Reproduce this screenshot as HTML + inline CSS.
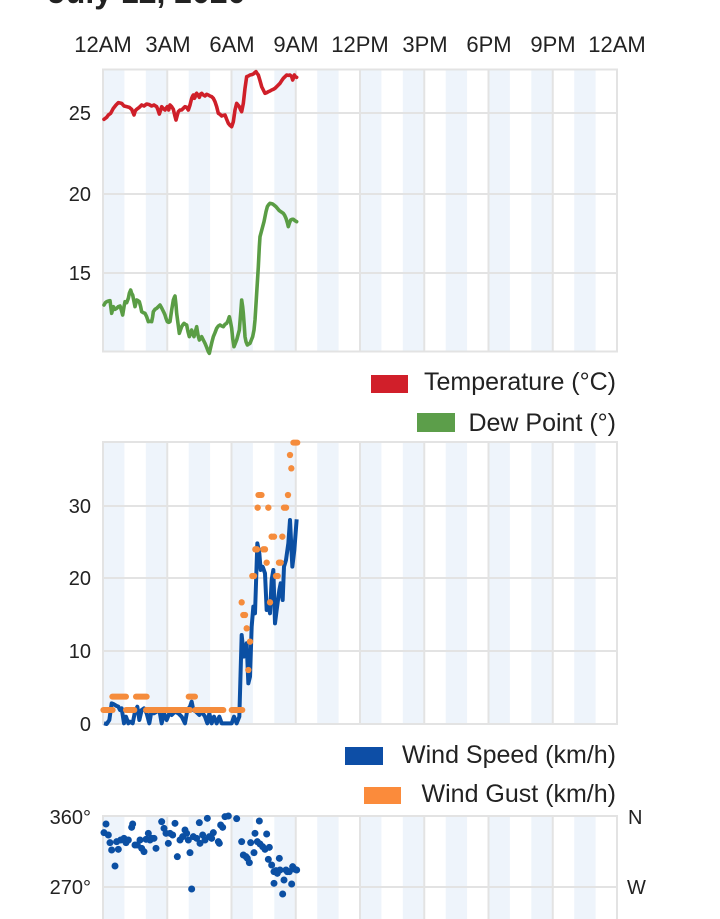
<!DOCTYPE html>
<html><head><meta charset="utf-8"><style>
html,body{margin:0;padding:0;background:#fff;}
svg{display:block;}
text{font-family:"Liberation Sans",sans-serif;fill:#222;}
</style></head><body>
<svg width="720" height="919" viewBox="0 0 720 919" xmlns="http://www.w3.org/2000/svg">
<defs>
<g id="stripes" fill="#eef4fb">
<rect x="103" width="21.4" height="1"/><rect x="145.8" width="21.4" height="1"/><rect x="188.7" width="21.4" height="1"/><rect x="231.5" width="21.4" height="1"/><rect x="274.3" width="21.4" height="1"/><rect x="317.2" width="21.4" height="1"/><rect x="360" width="21.4" height="1"/><rect x="402.8" width="21.4" height="1"/><rect x="445.7" width="21.4" height="1"/><rect x="488.5" width="21.4" height="1"/><rect x="531.3" width="21.4" height="1"/><rect x="574.2" width="21.4" height="1"/>
</g>
<g id="vgrid" stroke="#e3e3e3" stroke-width="2">
<line x1="167.25" y1="0" x2="167.25" y2="1" vector-effect="non-scaling-stroke"/><line x1="231.5" y1="0" x2="231.5" y2="1" vector-effect="non-scaling-stroke"/><line x1="295.75" y1="0" x2="295.75" y2="1" vector-effect="non-scaling-stroke"/><line x1="360" y1="0" x2="360" y2="1" vector-effect="non-scaling-stroke"/><line x1="424.25" y1="0" x2="424.25" y2="1" vector-effect="non-scaling-stroke"/><line x1="488.5" y1="0" x2="488.5" y2="1" vector-effect="non-scaling-stroke"/><line x1="552.75" y1="0" x2="552.75" y2="1" vector-effect="non-scaling-stroke"/>
</g>
</defs>

<!-- Title (cut off) -->
<text x="48" y="3" font-size="32" font-weight="bold" fill="#222">July 12, 2020</text>

<!-- Top axis labels -->
<g font-size="22" text-anchor="middle">
<text x="103" y="52">12AM</text><text x="168" y="52">3AM</text><text x="232" y="52">6AM</text><text x="296" y="52">9AM</text><text x="360" y="52">12PM</text><text x="425" y="52">3PM</text><text x="489" y="52">6PM</text><text x="553" y="52">9PM</text><text x="617" y="52">12AM</text>
</g>

<!-- ===== Temperature chart ===== -->
<use href="#stripes" transform="translate(0,69.5) scale(1,282)"/>
<use href="#vgrid" transform="translate(0,69.5) scale(1,282)"/>
<g stroke="#e3e3e3" stroke-width="2">
<line x1="103" y1="113" x2="617" y2="113"/><line x1="103" y1="194" x2="617" y2="194"/><line x1="103" y1="273" x2="617" y2="273"/>
</g>
<rect x="103" y="69.5" width="514" height="282" fill="none" stroke="#e3e3e3" stroke-width="2"/>
<g font-size="20" text-anchor="end">
<text x="91" y="120">25</text><text x="91" y="201">20</text><text x="91" y="280">15</text>
</g>
<g transform="translate(80,60) scale(0.333333)" fill="none" stroke-linejoin="round" stroke-linecap="round">
<polyline vector-effect="non-scaling-stroke" stroke="#cf1f29" stroke-width="3.6" points="72,178 80,172 85,165 92,160 100,145 108,135 115,128 125,130 132,138 140,140 148,142 155,148 162,165 166,152 170,148 178,142 185,135 192,138 200,132 208,134 215,138 222,135 230,140 234,150 238,162 242,150 245,140 250,146 255,150 258,145 262,140 266,150 270,135 275,140 280,148 284,165 288,180 292,165 295,155 300,150 305,150 310,145 315,140 320,142 325,150 330,135 335,115 338,108 340,105 343,115 345,112 348,102 350,100 354,105 358,112 362,102 365,100 370,105 375,108 380,103 385,105 390,108 395,110 400,115 405,125 410,140 415,160 420,163 425,168 430,166 435,165 440,178 445,190 450,196 455,200 460,185 465,150 468,138 470,130 474,135 478,140 482,150 485,155 488,140 490,130 495,85 500,50 505,48 510,45 515,44 520,42 524,38 528,35 531,40 535,45 540,62 545,80 550,90 555,100 560,98 565,95 570,93 575,90 580,88 585,85 592,78 600,70 605,62 610,55 615,50 620,45 625,46 630,45 635,50 638,60 640,55 643,45 646,50 650,52"/>
<polyline vector-effect="non-scaling-stroke" stroke="#5a9d45" stroke-width="3.6" points="72,735 76,728 80,725 85,723 90,722 93,745 95,760 100,740 105,748 110,745 115,740 120,738 124,750 128,765 132,740 135,725 140,728 145,715 148,700 152,690 155,700 158,705 162,725 165,740 168,728 170,720 174,722 178,725 182,740 185,755 190,758 195,760 200,770 205,785 210,784 215,785 218,770 220,755 225,748 230,745 235,740 240,735 244,742 248,750 252,758 255,765 258,775 262,785 266,787 270,785 275,750 280,720 283,712 285,708 288,735 290,760 294,790 298,820 302,808 305,800 308,795 312,790 316,793 320,795 324,815 328,830 332,818 335,810 338,822 342,830 346,815 350,800 354,825 358,840 362,835 365,830 370,840 375,850 380,862 385,875 388,880 392,862 396,845 400,830 405,818 410,805 415,798 420,795 425,798 430,800 435,793 440,790 444,782 448,770 452,788 455,805 458,835 462,860 466,850 470,840 474,825 478,810 482,760 485,720 488,740 490,760 493,800 495,830 498,845 502,855 506,852 510,850 514,840 518,830 522,810 525,780 530,700 535,620 538,560 540,530 544,515 548,500 552,485 555,470 558,455 562,440 566,434 570,430 574,431 578,432 583,436 588,440 593,446 598,452 604,456 610,460 614,466 618,475 622,488 625,500 628,490 632,480 636,478 640,478 645,482 650,485"/>
</g>

<!-- Legend 1 -->
<rect x="371" y="375" width="37" height="18" fill="#d11f2a"/>
<text x="616" y="390" font-size="25" text-anchor="end">Temperature (°C)</text>
<rect x="417" y="413" width="38" height="19" fill="#5c9e4a"/>
<text x="616" y="431" font-size="25" text-anchor="end">Dew Point (°)</text>

<!-- ===== Wind chart ===== -->
<use href="#stripes" transform="translate(0,442) scale(1,282)"/>
<use href="#vgrid" transform="translate(0,442) scale(1,282)"/>
<g stroke="#e3e3e3" stroke-width="2">
<line x1="103" y1="506" x2="617" y2="506"/><line x1="103" y1="578" x2="617" y2="578"/><line x1="103" y1="651" x2="617" y2="651"/>
</g>
<rect x="103" y="442" width="514" height="282" fill="none" stroke="#e3e3e3" stroke-width="2"/>
<g font-size="20" text-anchor="end">
<text x="91" y="513">30</text><text x="91" y="585">20</text><text x="91" y="658">10</text><text x="91" y="731">0</text>
</g>
<g transform="translate(80,430) scale(0.333333)" stroke-linejoin="round">
<polyline vector-effect="non-scaling-stroke" fill="none" stroke="#0b4fa3" stroke-width="4" points="72,880 80,882 88,870 95,820 100,822 105,825 110,828 115,830 120,840 125,835 132,880 138,860 145,880 150,875 158,880 165,845 172,830 178,870 185,840 192,835 200,850 208,880 215,840 222,850 230,845 238,840 245,880 252,850 260,870 268,850 275,855 285,845 295,850 305,860 315,880 322,840 330,830 335,815 340,840 348,845 358,855 365,845 375,860 382,880 388,850 395,880 402,860 410,880 418,860 425,880 435,880 445,880 455,880 462,860 470,880 478,860 485,615 492,680 500,640 505,760 510,740 515,590 520,530 525,550 532,340 538,370 542,420 548,410 555,430 560,540 565,520 570,550 575,450 580,420 585,580 590,540 598,480 602,460 608,510 612,410 618,390 625,340 630,270 637,410 643,360 650,268"/>
<g stroke="#f58c3c" stroke-width="6" stroke-linecap="round" fill="none">
<line vector-effect="non-scaling-stroke" x1="70" y1="840" x2="98" y2="840"/>
<line vector-effect="non-scaling-stroke" x1="97" y1="800" x2="138" y2="800"/>
<line vector-effect="non-scaling-stroke" x1="138" y1="840" x2="163" y2="840"/>
<line vector-effect="non-scaling-stroke" x1="168" y1="800" x2="200" y2="800"/>
<line vector-effect="non-scaling-stroke" x1="198" y1="840" x2="330" y2="840"/>
<line vector-effect="non-scaling-stroke" x1="326" y1="800" x2="345" y2="800"/>
<line vector-effect="non-scaling-stroke" x1="346" y1="840" x2="430" y2="840"/>
<line vector-effect="non-scaling-stroke" x1="455" y1="840" x2="487" y2="840"/>
<line vector-effect="non-scaling-stroke" x1="535" y1="195" x2="545" y2="195"/>
<line vector-effect="non-scaling-stroke" x1="640" y1="38" x2="652" y2="38"/>
</g>
<g fill="#f58c3c">
<circle cx="485" cy="517" r="9.5"/><circle cx="490" cy="555" r="9.5"/><circle cx="495" cy="555" r="9.5"/><circle cx="500" cy="595" r="9.5"/><circle cx="505" cy="720" r="9.5"/><circle cx="510" cy="635" r="9.5"/><circle cx="517" cy="438" r="9.5"/><circle cx="522" cy="438" r="9.5"/><circle cx="526" cy="358" r="9.5"/><circle cx="531" cy="358" r="9.5"/><circle cx="533" cy="233" r="9.5"/><circle cx="550" cy="358" r="9.5"/><circle cx="555" cy="358" r="9.5"/><circle cx="560" cy="398" r="9.5"/><circle cx="565" cy="233" r="9.5"/><circle cx="570" cy="517" r="9.5"/><circle cx="575" cy="320" r="9.5"/><circle cx="582" cy="320" r="9.5"/><circle cx="588" cy="438" r="9.5"/><circle cx="593" cy="438" r="9.5"/><circle cx="597" cy="398" r="9.5"/><circle cx="602" cy="398" r="9.5"/><circle cx="607" cy="320" r="9.5"/><circle cx="612" cy="233" r="9.5"/><circle cx="618" cy="233" r="9.5"/><circle cx="624" cy="195" r="9.5"/><circle cx="634" cy="115" r="9.5"/><circle cx="630" cy="75" r="9.5"/>
</g>
</g>

<!-- Legend 2 -->
<rect x="345" y="747" width="38" height="18" fill="#0d4ea6"/>
<text x="616" y="763" font-size="25" text-anchor="end">Wind Speed (km/h)</text>
<rect x="364" y="787" width="37" height="17" fill="#fb8b3b"/>
<text x="616" y="802" font-size="25" text-anchor="end">Wind Gust (km/h)</text>

<!-- ===== Direction chart ===== -->
<use href="#stripes" transform="translate(0,816) scale(1,110)"/>
<use href="#vgrid" transform="translate(0,816) scale(1,110)"/>
<line x1="103" y1="887" x2="617" y2="887" stroke="#e3e3e3" stroke-width="2"/>
<rect x="103" y="816" width="514" height="120" fill="none" stroke="#e3e3e3" stroke-width="2"/>
<g font-size="20" text-anchor="end">
<text x="91" y="824">360°</text><text x="91" y="894">270°</text>
</g>
<g font-size="20">
<text x="628" y="824">N</text><text x="627" y="894">W</text>
</g>
<g transform="translate(0,790) scale(0.333333)" fill="#0b4fa3">
<circle cx="318" cy="102" r="10.5"/><circle cx="312" cy="128" r="10.5"/><circle cx="325" cy="135" r="10.5"/><circle cx="330" cy="158" r="10.5"/><circle cx="335" cy="180" r="10.5"/><circle cx="345" cy="228" r="10.5"/><circle cx="350" cy="155" r="10.5"/><circle cx="355" cy="178" r="10.5"/><circle cx="362" cy="150" r="10.5"/><circle cx="372" cy="145" r="10.5"/><circle cx="378" cy="158" r="10.5"/><circle cx="385" cy="150" r="10.5"/><circle cx="395" cy="112" r="10.5"/><circle cx="398" cy="102" r="10.5"/><circle cx="405" cy="165" r="10.5"/><circle cx="412" cy="165" r="10.5"/><circle cx="420" cy="150" r="10.5"/><circle cx="425" cy="175" r="10.5"/><circle cx="432" cy="185" r="10.5"/><circle cx="438" cy="148" r="10.5"/><circle cx="445" cy="130" r="10.5"/><circle cx="450" cy="150" r="10.5"/><circle cx="455" cy="145" r="10.5"/><circle cx="462" cy="145" r="10.5"/><circle cx="468" cy="175" r="10.5"/><circle cx="485" cy="95" r="10.5"/><circle cx="492" cy="115" r="10.5"/><circle cx="498" cy="130" r="10.5"/><circle cx="505" cy="160" r="10.5"/><circle cx="510" cy="130" r="10.5"/><circle cx="518" cy="135" r="10.5"/><circle cx="525" cy="100" r="10.5"/><circle cx="532" cy="200" r="10.5"/><circle cx="540" cy="150" r="10.5"/><circle cx="548" cy="140" r="10.5"/><circle cx="555" cy="120" r="10.5"/><circle cx="560" cy="130" r="10.5"/><circle cx="565" cy="150" r="10.5"/><circle cx="570" cy="188" r="10.5"/><circle cx="575" cy="297" r="10.5"/><circle cx="580" cy="140" r="10.5"/><circle cx="590" cy="145" r="10.5"/><circle cx="598" cy="98" r="10.5"/><circle cx="600" cy="160" r="10.5"/><circle cx="608" cy="135" r="10.5"/><circle cx="615" cy="150" r="10.5"/><circle cx="622" cy="85" r="10.5"/><circle cx="628" cy="140" r="10.5"/><circle cx="635" cy="145" r="10.5"/><circle cx="640" cy="128" r="10.5"/><circle cx="655" cy="155" r="10.5"/><circle cx="658" cy="160" r="10.5"/><circle cx="662" cy="105" r="10.5"/><circle cx="668" cy="112" r="10.5"/><circle cx="675" cy="80" r="10.5"/><circle cx="685" cy="78" r="10.5"/><circle cx="710" cy="86" r="10.5"/><circle cx="725" cy="155" r="10.5"/><circle cx="730" cy="195" r="10.5"/><circle cx="738" cy="200" r="10.5"/><circle cx="742" cy="205" r="10.5"/><circle cx="748" cy="218" r="10.5"/><circle cx="752" cy="158" r="10.5"/><circle cx="762" cy="188" r="10.5"/><circle cx="765" cy="130" r="10.5"/><circle cx="772" cy="155" r="10.5"/><circle cx="778" cy="93" r="10.5"/><circle cx="780" cy="162" r="10.5"/><circle cx="788" cy="170" r="10.5"/><circle cx="795" cy="178" r="10.5"/><circle cx="800" cy="132" r="10.5"/><circle cx="808" cy="172" r="10.5"/><circle cx="805" cy="208" r="10.5"/><circle cx="815" cy="225" r="10.5"/><circle cx="822" cy="245" r="10.5"/><circle cx="822" cy="280" r="10.5"/><circle cx="828" cy="242" r="10.5"/><circle cx="832" cy="250" r="10.5"/><circle cx="838" cy="205" r="10.5"/><circle cx="840" cy="240" r="10.5"/><circle cx="848" cy="312" r="10.5"/><circle cx="852" cy="270" r="10.5"/><circle cx="858" cy="240" r="10.5"/><circle cx="862" cy="245" r="10.5"/><circle cx="868" cy="245" r="10.5"/><circle cx="875" cy="282" r="10.5"/><circle cx="878" cy="230" r="10.5"/><circle cx="885" cy="238" r="10.5"/><circle cx="890" cy="240" r="10.5"/>
</g>
</svg>
</body></html>
